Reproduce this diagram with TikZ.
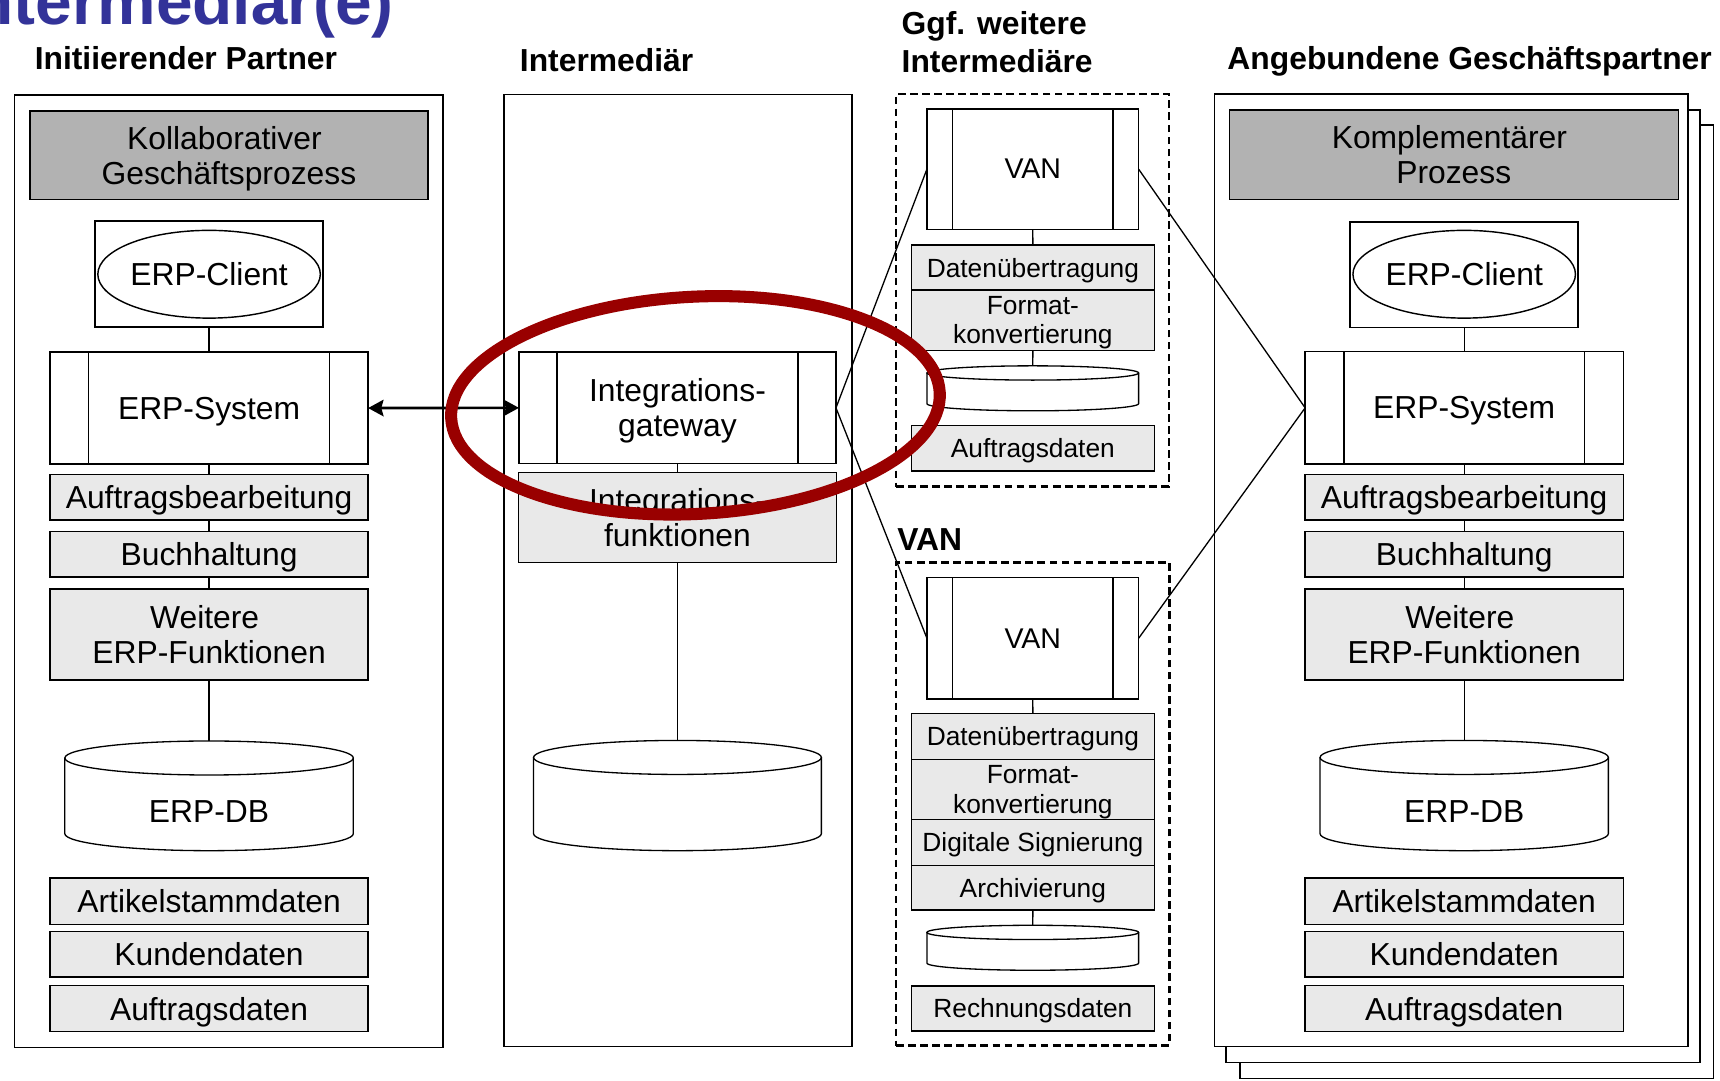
\documentclass[tikz,border=0pt]{standalone}
\usepackage{fontspec}
\setmainfont{Liberation Sans}
\usetikzlibrary{arrows.meta,shapes.geometric}
\definecolor{hdrgray}{RGB}{178,178,178}
\definecolor{fngray}{RGB}{233,233,233}
\definecolor{ringred}{RGB}{153,0,0}
\definecolor{titleblue}{RGB}{51,51,153}
\newcommand{\dbcyl}[6]{% name, cx, ytop, ybot, rx, ry
  \fill[white] (#2-#5,#3) -- (#2-#5,#4) arc[start angle=180, end angle=0, x radius=#5, y radius=#6] -- (#2+#5,#3) arc[start angle=0, end angle=-180, x radius=#5, y radius=#6] -- cycle;
  \draw[line width=1.2pt] (#2-#5,#3) -- (#2-#5,#4) arc[start angle=180, end angle=0, x radius=#5, y radius=#6] -- (#2+#5,#3);
  \draw[line width=1.2pt] (#2,#3) ellipse[x radius=#5, y radius=#6];
  \node[minimum width={2*#5*1pt}, minimum height={(#4-#3+2*#6)*1pt}] (#1) at (#2,{(#3+#4)/2}) {};
}
\newcommand{\tsp}{\hspace*{0.278em}}
\begin{document}
\begin{tikzpicture}[x=1pt,y=-1pt,
  every node/.style={inner sep=0pt, outer sep=0pt, align=center, text depth=0pt},
  big/.style={font=\fontsize{29}{32}\selectfont},
  small/.style={font=\fontsize{24}{26.5}\selectfont},
  vanfont/.style={font=\fontsize{26}{30}\selectfont},
  head/.style={font=\fontsize{29}{35}\selectfont\bfseries, anchor=base west, align=left},
  frame/.style={draw, line width=1.3pt, fill=white},
  hdr/.style={draw, line width=1.3pt, fill=hdrgray, big},
  fn/.style={draw, line width=1.2pt, fill=fngray},
  fnbig/.style={fn, big, minimum width=290pt},
  fnsmall/.style={fn, small, minimum width=221.3pt},
  clientbox/.style={draw, line width=1.7pt, fill=white, minimum width=207.5pt, minimum height=96.5pt},
  client/.style={draw, ellipse, line width=1.3pt, fill=white, minimum width=181pt, minimum height=80pt, big},
  sysbox/.style={draw, line width=1.2pt, fill=white,
    path picture={
      \draw[line width=1.2pt] ([xshift=#1]path picture bounding box.north west) -- ([xshift=#1]path picture bounding box.south west);
      \draw[line width=1.2pt] ([xshift=-#1]path picture bounding box.north east) -- ([xshift=-#1]path picture bounding box.south east);
    }},
  sysbox/.default=35.3pt,
  conn/.style={line width=1.2pt},
  dashframe/.style={draw, line width=2.3pt, dash pattern=on 7pt off 4pt},
]
\useasboundingbox (0,0) rectangle (1568,985);

% ---------- title and headings ----------
\node[font=\fontsize{60}{60}\selectfont\bfseries, text=titleblue, anchor=base west] (title) at (-41,22) {Intermediär(e)};
\node[head] (hInit) at (31.7,63.5) {Initiierender Partner};
\node[head] (hInt) at (474,65) {Intermediär};
\node[head] (hGgf) at (822,66) {Ggf. weitere\\Intermediäre};
\node[head] (hAng) at (1119,63.5) {Angebundene Geschäftspartner};
\node[head] (hVAN) at (818,502) {VAN};

% ---------- left column ----------
\node[frame, minimum width=390.6pt, minimum height=868.4pt] (outerL) at (208.7,520.8) {};
\node[hdr, minimum width=362.7pt, minimum height=80.8pt] (hdrL) at (208.65,141.6) {Kollaborativer\tsp\\Geschäftsprozess};
\node[clientbox] (cbL) at (190.6,250) {};
\node[client] (clL) at (190.6,250) {ERP-Client};
\node[sysbox, big, minimum width=290pt, minimum height=102pt] (sysL) at (190.6,372) {ERP-System};
\node[fnbig, minimum height=41.4pt] (aufL) at (190.6,453.3) {Auftragsbearbeitung};
\node[fnbig, minimum height=41.2pt] (buchL) at (190.6,505.4) {Buchhaltung};
\node[fnbig, minimum height=83pt] (weitL) at (190.6,578.5) {Weitere\tsp\\ERP-Funktionen};
\dbcyl{dbL}{190.6}{691}{760}{131.5}{15.5}
\node[big] (dbLt) at (190.6,740) {ERP-DB};
\node[fnbig, minimum height=42pt] (artL) at (190.6,821.5) {Artikelstammdaten};
\node[fnbig, minimum height=41.4pt] (kdL) at (190.6,870) {Kundendaten};
\node[fnbig, minimum height=42pt] (adL) at (190.6,919.5) {Auftragsdaten};
\draw[conn] (cbL.south) -- (sysL.north);
\draw[conn] (sysL.south) -- (aufL.north);
\draw[conn] (aufL.south) -- (buchL.north);
\draw[conn] (buchL.south) -- (weitL.north);
\draw[conn] (weitL.south) -- (dbL.north);

% ---------- middle column ----------
\node[frame, minimum width=317.2pt, minimum height=868pt] (outerM) at (618,520) {};
\node[sysbox=34.6pt, big, minimum width=289pt, minimum height=101.8pt] (gw) at (617.6,371.8) {Integrations-\\gateway};
\node[fn, big, minimum width=289.7pt, minimum height=81.7pt] (igf) at (617.6,471.75) {Integrations-\\funktionen};
\dbcyl{dbM}{617.6}{690.5}{760}{131.2}{15.5}
\draw[conn] (gw.south) -- (igf.north);
\draw[conn] (igf.south) -- (dbM.north);

% ---------- VAN column ----------
\node[dashframe, minimum width=248.9pt, minimum height=357.9pt] (dash1) at (941.25,264.65) {};
\node[sysbox=23.3pt, vanfont, minimum width=193pt, minimum height=109.6pt] (van1) at (941.5,154.2) {VAN};
\node[fnsmall, minimum height=41.1pt] (du1) at (941.6,243.85) {Datenübertragung};
\node[fnsmall, minimum height=55.3pt] (fk1) at (941.6,292.05) {Format-\\konvertierung};
\dbcyl{cyl1}{941.5}{340}{368}{96.5}{6.5}
\node[fnsmall, minimum height=41.4pt] (ad1) at (941.6,408.7) {Auftragsdaten};
\draw[conn] (van1.south) -- (du1.north);
\draw[conn] (fk1.south) -- (cyl1.north);

\node[dashframe, minimum width=249.2pt, minimum height=440.6pt] (dash2) at (941.4,732.9) {};
\node[sysbox=23.3pt, vanfont, minimum width=193pt, minimum height=110.7pt] (van2) at (941.5,581.85) {VAN};
\node[fnsmall, minimum height=42pt] (du2) at (941.6,671.3) {Datenübertragung};
\node[fnsmall, minimum height=54.7pt] (fk2) at (941.6,719.65) {Format-\\konvertierung};
\node[fnsmall, minimum height=42pt] (ds2) at (941.6,768) {Digitale Signierung};
\node[fnsmall, minimum height=40.7pt] (ar2) at (941.6,809.35) {Archivierung};
\dbcyl{cyl2}{941.5}{850}{878}{96.5}{6.5}
\node[fnsmall, minimum height=41pt] (rd2) at (941.6,919.3) {Rechnungsdaten};
\draw[conn] (van2.south) -- (du2.north);
\draw[conn] (ar2.south) -- (cyl2.north);

% ---------- right column ----------
\node[frame, minimum width=431.6pt, minimum height=869pt] (back3) at (1346.2,548.5) {};
\node[frame, minimum width=432.2pt, minimum height=868.1pt] (back2) at (1333.6,534.35) {};
\node[frame, minimum width=431.7pt, minimum height=868.3pt] (outerR) at (1323.15,519.85) {};
\node[hdr, minimum width=409.4pt, minimum height=81.4pt] (hdrR) at (1325.3,141) {Komplementärer\tsp\\Prozess};
\node[clientbox] (cbR) at (1334.8,250.3) {};
\node[client] (clR) at (1334.8,250) {ERP-Client};
\node[sysbox, big, minimum width=290pt, minimum height=102.4pt] (sysR) at (1334.8,371.8) {ERP-System};
\node[fnbig, minimum height=41.4pt] (aufR) at (1334.8,453.3) {Auftragsbearbeitung};
\node[fnbig, minimum height=41.2pt] (buchR) at (1334.8,505.4) {Buchhaltung};
\node[fnbig, minimum height=83pt] (weitR) at (1334.8,578.5) {Weitere\tsp\\ERP-Funktionen};
\dbcyl{dbR}{1334.8}{690.5}{760}{131.4}{15.5}
\node[big] (dbRt) at (1334.8,740) {ERP-DB};
\node[fnbig, minimum height=42pt] (artR) at (1334.8,821.5) {Artikelstammdaten};
\node[fnbig, minimum height=41.4pt] (kdR) at (1334.8,870) {Kundendaten};
\node[fnbig, minimum height=42pt] (adR) at (1334.8,919.5) {Auftragsdaten};
\draw[conn] (cbR.south) -- (sysR.north);
\draw[conn] (sysR.south) -- (aufR.north);
\draw[conn] (aufR.south) -- (buchR.north);
\draw[conn] (buchR.south) -- (weitR.north);
\draw[conn] (weitR.south) -- (dbR.north);

% ---------- cross connections ----------
\draw[line width=2.4pt, {Stealth[length=14pt,width=15pt,inset=2pt]}-{Stealth[length=14pt,width=15pt,inset=2pt]}] (sysL.east) -- (gw.west);
\draw[conn] (gw.east) -- (van1.west);
\draw[conn] (gw.east) -- (van2.west);
\draw[conn] (van1.east) -- (sysR.west);
\draw[conn] (van2.east) -- (sysR.west);

% ---------- highlight ring ----------
\node[ellipse, draw=ringred, line width=11pt, minimum width=446pt, minimum height=198pt, rotate=3] (ring) at (634,369.5) {};
\end{tikzpicture}
\end{document}
